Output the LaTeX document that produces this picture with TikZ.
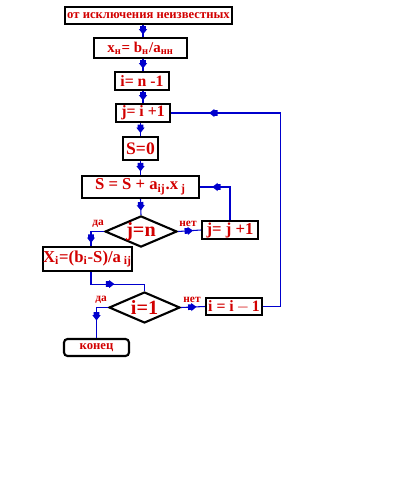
\documentclass[tikz,border=0pt]{standalone}
\usepackage{fontspec}
\setmainfont{Liberation Serif}
\usetikzlibrary{shapes.geometric,decorations.markings}
\definecolor{txtred}{RGB}{210,0,0}
\definecolor{lineblue}{RGB}{0,0,205}
\newcommand{\sub}[1]{\textsubscript{#1}}

\begin{document}
\begin{tikzpicture}[x=0.02cm,y=-0.02cm,
  box/.style={draw,line width=1.2pt,text=txtred,font=\bfseries,inner sep=0pt},
  cond/.style={diamond,draw,line width=1.2pt,text=txtred,font=\bfseries\fontsize{11.5}{11.5}\selectfont,inner sep=0pt,aspect=2.3},
  lbl/.style={text=txtred,font=\bfseries\fontsize{6.5}{6.5}\selectfont,inner sep=0pt},
  flow/.style={lineblue,line width=0.6pt,postaction=decorate,decoration={markings,
    mark=at position #1 with {\fill[lineblue] (-2.8pt,-1.6pt) -- (-2.8pt,1.6pt) -- (-1pt,1.6pt) -- (-1pt,2.3pt)
      -- (2pt,0) -- (-1pt,-2.3pt) -- (-1pt,-1.6pt) -- cycle;}}},
  flow/.default=0.5]
\useasboundingbox (0,0) rectangle (400,500);
\coordinate (col) at (143,0);
\coordinate (lx) at (91,0);

\node[box,minimum width=3.34cm,minimum height=0.34cm,font=\bfseries\fontsize{7.2}{7.2}\selectfont] (start) at (148.5,15.5) {от исключения неизвестных};
\node[box,minimum width=1.86cm,minimum height=0.40cm,font=\bfseries\fontsize{8.5}{8.5}\selectfont] (xn) at (140.5,48) {x\sub{н}= b\sub{н}/a\sub{нн}};
\node[box,minimum width=1.08cm,minimum height=0.36cm,font=\bfseries\fontsize{9}{9}\selectfont] (inm) at (142,81) {i= n -1};
\node[box,minimum width=1.08cm,minimum height=0.36cm,font=\bfseries\fontsize{9}{9}\selectfont] (jpi) at (143,113) {j= i +1};
\node[box,minimum width=0.70cm,minimum height=0.46cm,font=\bfseries\fontsize{10}{10}\selectfont] (szero) at (140.5,148.5) {S=0};
\node[box,minimum width=2.34cm,minimum height=0.44cm,font=\bfseries\fontsize{9.5}{9.5}\selectfont] (ssum) at (140.5,187) {S = S + a\sub{ij}.x\sub{ j}};
\node[cond,minimum width=1.44cm,minimum height=0.62cm] (jn) at (141,231.5) {j=n};
\node[box,minimum width=1.12cm,minimum height=0.36cm,font=\bfseries\fontsize{9.5}{9.5}\selectfont] (jpj) at (230,230) {j= j +1};
\node[box,minimum width=1.78cm,minimum height=0.48cm,font=\bfseries\fontsize{9.5}{9.5}\selectfont] (xi) at (87.5,259) {X\sub{i}=(b\sub{i}-S)/a\sub{ ij}};
\node[cond,minimum width=1.42cm,minimum height=0.62cm] (ione) at (144.5,307.5) {i=1};
\node[box,minimum width=1.12cm,minimum height=0.34cm,font=\bfseries\fontsize{9}{9}\selectfont] (imi) at (234,306.5) {i = i$\,-\,$1};
\node[box,rounded corners=2pt,minimum width=1.30cm,minimum height=0.34cm,font=\bfseries\fontsize{7.2}{7.2}\selectfont] (fin) at (96.5,347.5) {конец};

\node[lbl] (yes1) at (98,224) {да};
\node[lbl] (no1) at (188,224) {нет};
\node[lbl] (yes2) at (101,300) {да};
\node[lbl] (no2) at (192,300) {нет};

\draw[flow] (start.south -| col) -- (xn.north -| col);
\draw[flow] (xn.south -| col) -- (inm.north -| col);
\draw[flow] (inm.south -| col) -- (jpi.north -| col);
\draw[flow] (jpi.south -| szero) -- (szero.north);
\draw[flow] (szero.south) -- (ssum.south |- szero.south) -- (ssum.north);
\draw[flow] (ssum.south) -- (jn.north);
\draw[flow] (jn.east) -- (jpj.west);
\draw[flow=0.75] (jpj.north) |- (ssum.east);
\draw[flow=0.76] (jn.west) -| (lx |- xi.north);
\draw[flow=0.44] (xi.south -| lx) -- ++(0,12) -| (ione.north);
\draw[flow] (ione.east) -- (imi.west);
\draw[flow=0.87] (imi.east) -- ++(17,0) |- (jpi.east);
\draw[flow] (ione.west) -| (fin.north);
\end{tikzpicture}
\end{document}
